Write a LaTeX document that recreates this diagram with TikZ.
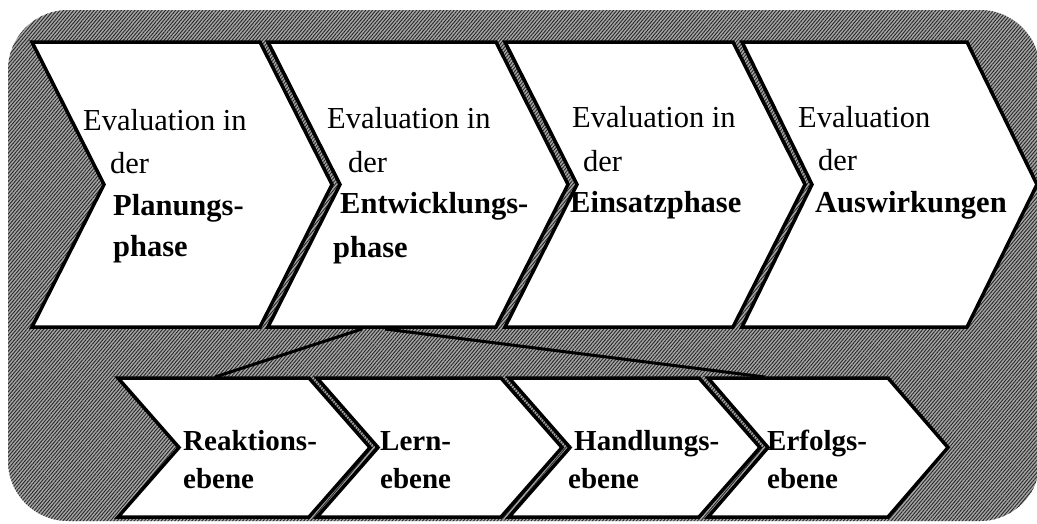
\documentclass[tikz,border=0pt]{standalone}
\usepackage{fontspec}
\setmainfont{Liberation Serif}
\usetikzlibrary{patterns.meta}
\tikzset{
  chev/.style={draw=black, fill=white, line width=3.5pt, line join=miter},
  funnel/.style={draw=black, line width=3pt},
  toptxt/.style={anchor=base west, inner sep=0pt, font=\fontsize{30.5}{36}\selectfont},
  topbold/.style={toptxt, font=\fontsize{30.5}{36}\selectfont\bfseries},
  lowbold/.style={anchor=base west, inner sep=0pt, font=\fontsize{29}{34}\selectfont\bfseries},
  hatchbg/.style={fill=black!35, postaction={pattern={Lines[angle=50,distance=2.6pt,line width=0.9pt]}, pattern color=black!85}}
}
\newcommand\mychevron[5]{%
  \path[chev] (#1,#3) -- (#2,#3) -- ({#2+#5},{(#3+#4)/2}) -- (#2,#4) -- (#1,#4) -- ({#1+#5},{(#3+#4)/2}) -- cycle;}
\begin{document}
\begin{tikzpicture}[x=1pt,y=-1pt]
\useasboundingbox (0,0) rectangle (1037,523);
\fill[white] (0,0) rectangle (1037,523);
% hatched rounded background
\path[hatchbg, rounded corners=60pt] (8,10) rectangle (1040,521);
% top chevrons
\mychevron{32}{260}{42}{327}{72}
\mychevron{268}{496}{42}{327}{72}
\mychevron{505}{733}{42}{327}{72}
\mychevron{742}{967}{42}{327}{70}
% funnel
\coordinate (fa) at (362,329);
\coordinate (fb) at (215,377);
\coordinate (fc) at (385,329);
\coordinate (fd) at (765,377);
\draw[funnel] (fa) -- (fb);
\draw[funnel] (fc) -- (fd);
% bottom chevrons
\mychevron{118}{309}{378}{517}{61}
\mychevron{317}{501}{378}{517}{61}
\mychevron{509}{699}{378}{517}{61}
\mychevron{708}{888}{378}{517}{60}
% top texts
\node[toptxt] (t1a) at (83,130) {Evaluation in};
\node[toptxt] (t1b) at (110,173) {der};
\node[topbold] (t1c) at (113,215) {Planungs-};
\node[topbold] (t1d) at (113,256) {phase};
\node[toptxt] (t2a) at (327,128) {Evaluation in};
\node[toptxt] (t2b) at (348,172) {der};
\node[topbold] (t2c) at (340,213) {Entwicklungs-};
\node[topbold] (t2d) at (333,257) {phase};
\node[toptxt] (t3a) at (572,127) {Evaluation in};
\node[toptxt] (t3b) at (583,171) {der};
\node[topbold] (t3c) at (570,212) {Einsatzphase};
\node[toptxt] (t4a) at (798,127) {Evaluation};
\node[toptxt] (t4b) at (818,170) {der};
\node[topbold] (t4c) at (815,212) {Auswirkungen};
% bottom texts
\node[lowbold] (b1a) at (183,450) {Reaktions-};
\node[lowbold] (b1b) at (183,488) {ebene};
\node[lowbold] (b2a) at (380,450) {Lern-};
\node[lowbold] (b2b) at (380,488) {ebene};
\node[lowbold] (b3a) at (574,450) {Handlungs-};
\node[lowbold] (b3b) at (568,488) {ebene};
\node[lowbold] (b4a) at (767,450) {Erfolgs-};
\node[lowbold] (b4b) at (767,488) {ebene};
\end{tikzpicture}
\end{document}
